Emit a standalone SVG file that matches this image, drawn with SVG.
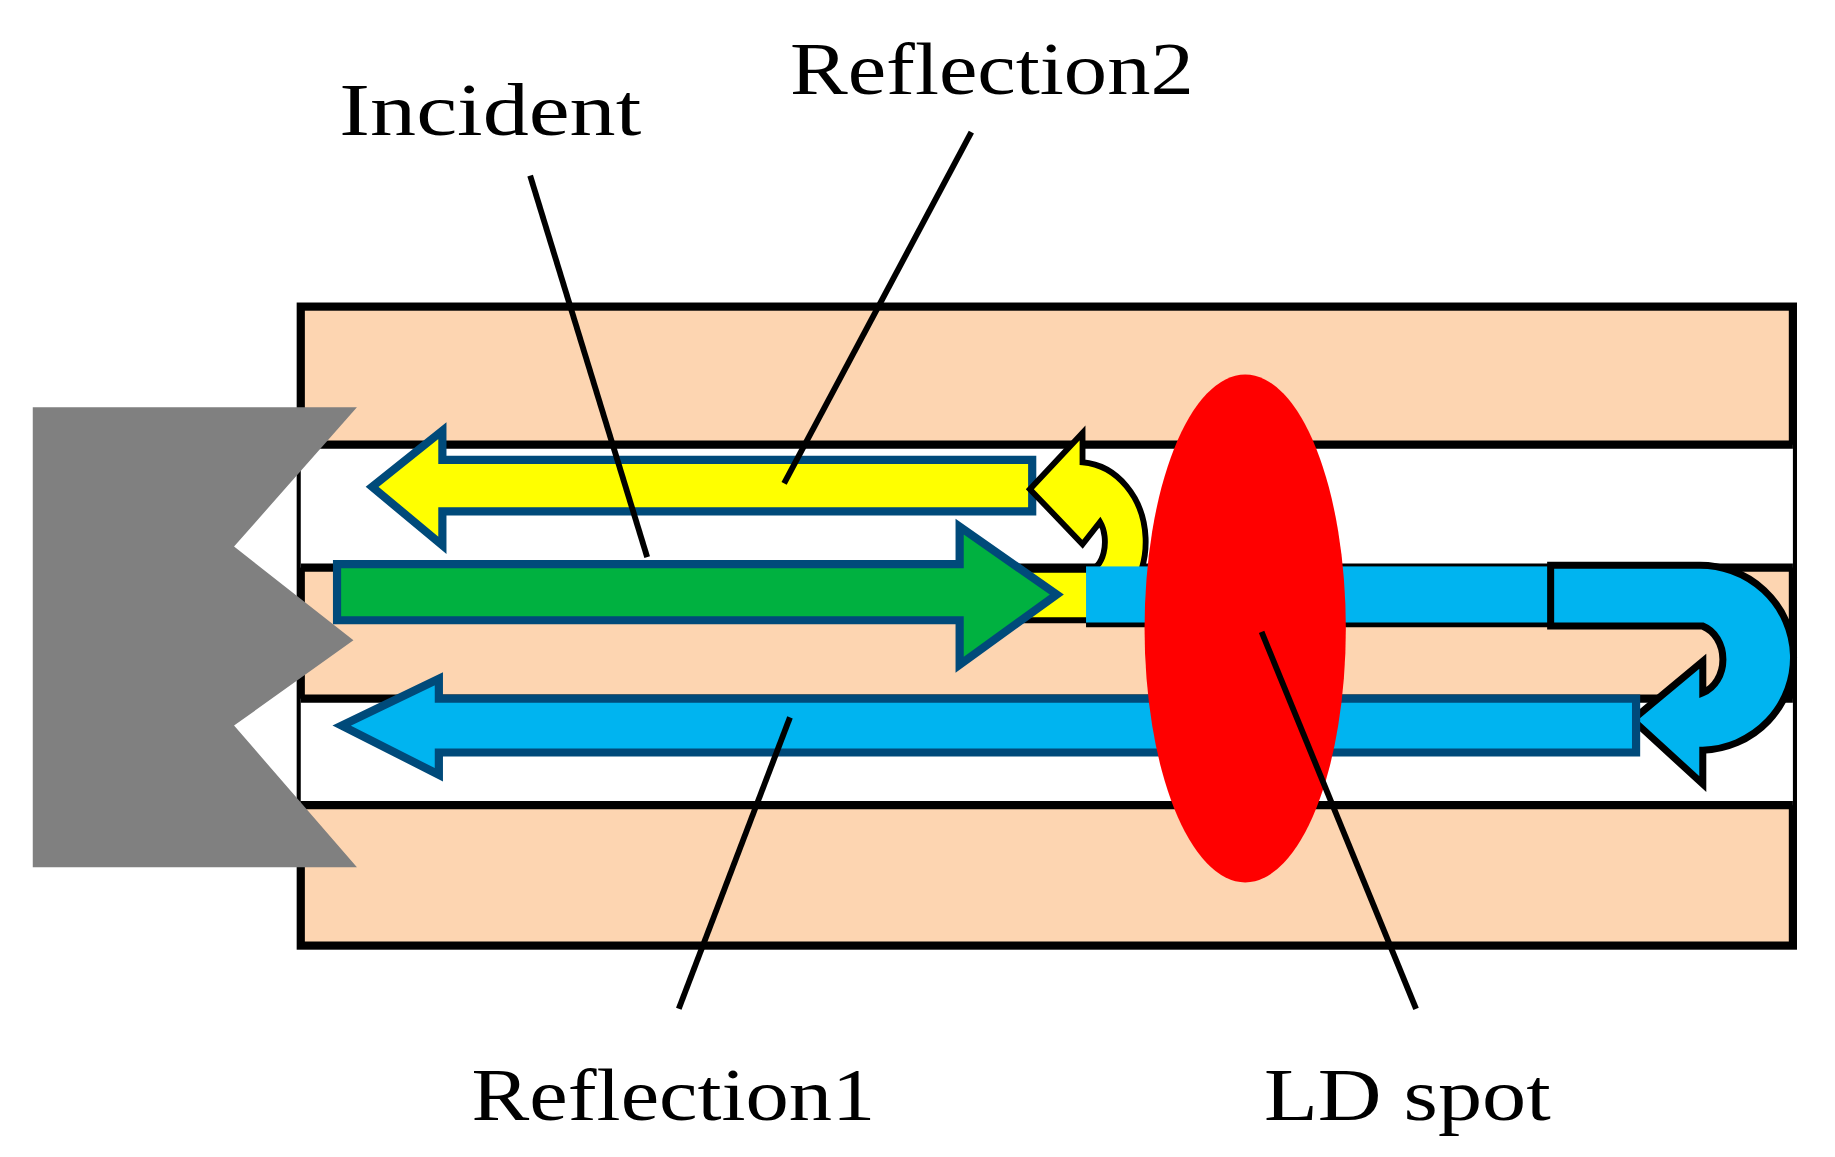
<svg xmlns="http://www.w3.org/2000/svg" width="1835" height="1157" viewBox="0 0 1835 1157">
<style>
.ar{stroke:#004A7A;stroke-width:7;stroke-linejoin:miter}
.ln{stroke:#000;stroke-width:7}
.ld{stroke:#000;stroke-width:5}
.t{font-family:"Liberation Serif",serif;font-size:64px;fill:#000}
</style>
<rect width="1835" height="1157" fill="#fff"/>
<g transform="scale(1.1703)">
<g id="substrate">
<rect x="257" y="262" width="1275" height="546" fill="#FDD5B1" stroke="#000" stroke-width="7"/>
<rect x="257" y="380" width="1275" height="105" fill="#fff"/>
<rect x="257" y="597" width="1275" height="91" fill="#fff"/>
<line class="ln" x1="257" y1="380" x2="1532" y2="380"/>
<line class="ln" x1="257" y1="485" x2="1532" y2="485"/>
<line class="ln" x1="257" y1="597" x2="1532" y2="597"/>
<line class="ln" x1="257" y1="688" x2="1532" y2="688"/>
</g>
<g id="holder"><polygon points="28,348 305,348 200,467 302,547 200,620 305,741 28,741" fill="#808080"/></g>
<g id="reflection2">
<polygon class="ar" points="882,393 882,437 378,437 378,466 318,416 378,368 378,393" fill="#FFFF00"/>
<path d="M875,487 H930 A14,24 0 0 0 940,446 L925,465 L880,418 L925,370 L925,395 A58,68 0 0 1 930,530 H875 Z" fill="#FFFF00" stroke="#000" stroke-width="5"/>
</g>
<g id="reflection1">
<rect x="928" y="484" width="400" height="50" fill="#00B4F0"/>
<line x1="928" y1="534" x2="1325" y2="534" stroke="#000" stroke-width="4"/>
<path d="M1325,483 H1450 A80,79 0 0 1 1455,641 L1455,670 L1395,615 L1455,565 L1455,592 A25,30 0 0 0 1455,535 H1325 Z" fill="#00B4F0" stroke="#000" stroke-width="6"/>
<polygon class="ar" points="1398,597 1398,643 375,643 375,662 292,620 375,580 375,597" fill="#00B4F0"/>
</g>
<g id="incident"><polygon class="ar" points="288,482 820,482 820,450 903,508 820,568 820,530 288,530" fill="#00B140"/></g>
<g id="ldspot"><ellipse cx="1064" cy="537" rx="86" ry="217" fill="#FF0000"/></g>
<g id="connectors">
<line class="ld" x1="453" y1="150" x2="553" y2="476"/>
<line class="ld" x1="830" y1="113" x2="670" y2="413"/>
<line class="ld" x1="675" y1="613" x2="580" y2="862"/>
<line class="ld" x1="1078" y1="540" x2="1210" y2="862"/>
</g>
<g id="labels">
<text class="t" x="290" y="115" textLength="258" lengthAdjust="spacingAndGlyphs">Incident</text>
<text class="t" x="675" y="80" textLength="345" lengthAdjust="spacingAndGlyphs">Reflection2</text>
<text class="t" x="403" y="957" textLength="345" lengthAdjust="spacingAndGlyphs">Reflection1</text>
<text class="t" x="1080" y="957" textLength="245" lengthAdjust="spacingAndGlyphs">LD spot</text>
</g>
</g>
</svg>
